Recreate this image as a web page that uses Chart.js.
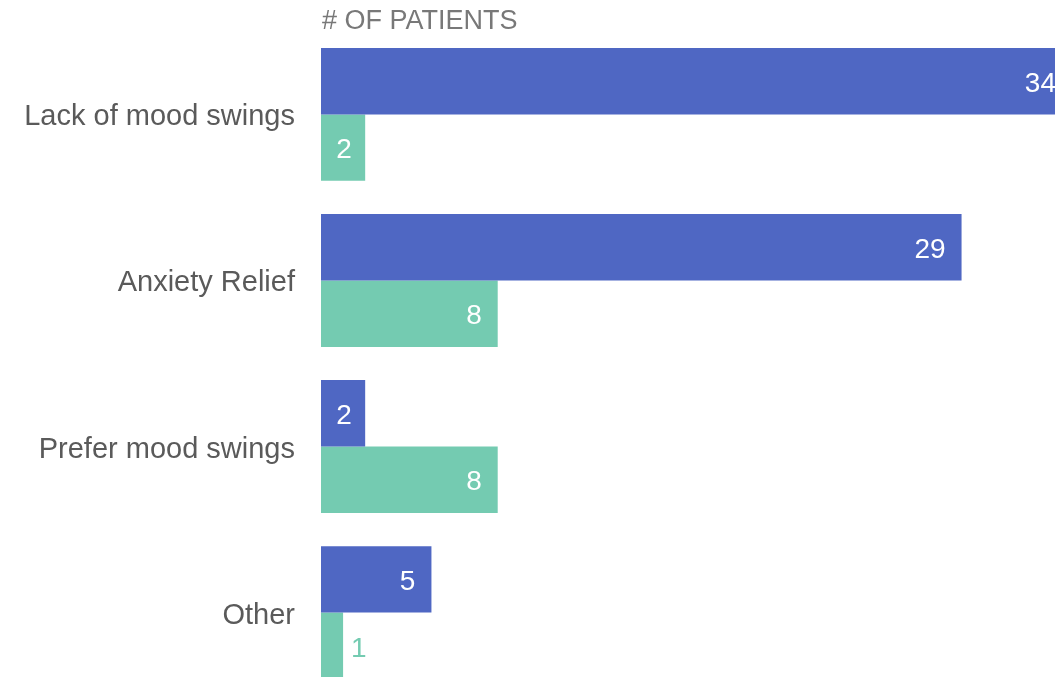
<!DOCTYPE html>
<html>
<head>
<meta charset="utf-8">
<script src="https://cdn.jsdelivr.net/npm/chart.js@4.4.1/dist/chart.umd.min.js"></script>
<style>
  html, body { margin: 0; padding: 0; background: #fff; overflow: hidden; }
  #wrap { width: 1055px; height: 677px; overflow: hidden; position: relative; }
  #patientsChart { position: absolute; left: 0; top: -12px; }
</style>
</head>
<body>
<div id="wrap"><canvas id="patientsChart" width="1100" height="751"></canvas></div>
<script>
// Reasons given by patients, two groups
const categories = ['Lack of mood swings', 'Anxiety Relief', 'Prefer mood swings', 'Other'];
const seriesA = [34, 29, 2, 5];
const seriesB = [2, 8, 8, 1];
const axisTitle = '# OF PATIENTS';

const BLUE = '#4f67c3';
const TEAL = '#74cbb1';
const FONT = '"Liberation Sans", Arial, sans-serif';

// value labels at the bar end: white inside, coloured outside when the bar is too thin
const valueLabels = {
  id: 'valueLabels',
  afterDatasetsDraw(chart) {
    const ctx = chart.ctx;
    ctx.save();
    ctx.font = '28px ' + FONT;
    ctx.textBaseline = 'middle';
    chart.data.datasets.forEach((ds, di) => {
      chart.getDatasetMeta(di).data.forEach((bar, i) => {
        const txt = String(ds.data[i]);
        const w = bar.x - bar.base;
        const tw = ctx.measureText(txt).width;
        const y = bar.y + 3;
        if (w < tw + 8) {
          ctx.fillStyle = ds.backgroundColor;
          ctx.textAlign = 'left';
          ctx.fillText(txt, bar.x + 8, y);
        } else if (w < 60) {
          ctx.fillStyle = '#fff';
          ctx.textAlign = 'center';
          ctx.fillText(txt, (bar.x + bar.base) / 2 + 1, y);
        } else {
          ctx.fillStyle = '#fff';
          ctx.textAlign = 'right';
          ctx.fillText(txt, bar.x - 16, y);
        }
      });
    });
    ctx.restore();
  }
};

// heading above the bars
const heading = {
  id: 'heading',
  afterDraw(chart) {
    const ctx = chart.ctx;
    ctx.save();
    ctx.font = '27px ' + FONT;
    ctx.fillStyle = '#787878';
    ctx.textAlign = 'left';
    ctx.textBaseline = 'middle';
    ctx.fillText(axisTitle, chart.chartArea.left + 1, chart.chartArea.top - 10);
    ctx.restore();
  }
};

new Chart(document.getElementById('patientsChart'), {
  type: 'bar',
  data: {
    labels: categories,
    datasets: [
      { data: seriesA, backgroundColor: BLUE },
      { data: seriesB, backgroundColor: TEAL }
    ]
  },
  options: {
    indexAxis: 'y',
    responsive: false,
    animation: false,
    layout: { padding: { top: 21, right: 28, bottom: 4, left: 0 } },
    datasets: { bar: { categoryPercentage: 0.8, barPercentage: 1.0 } },
    plugins: {
      legend: { display: false },
      tooltip: { enabled: false }
    },
    scales: {
      x: { display: false, min: 0, max: 34 },
      y: {
        grid: { display: false, drawTicks: false },
        border: { display: false },
        ticks: { color: '#5a5a5a', font: { family: FONT, size: 29 }, padding: 26, labelOffset: 3 },
        afterFit(scale) { scale.width = 321; }
      }
    }
  },
  plugins: [valueLabels, heading]
});
</script>
</body>
</html>
